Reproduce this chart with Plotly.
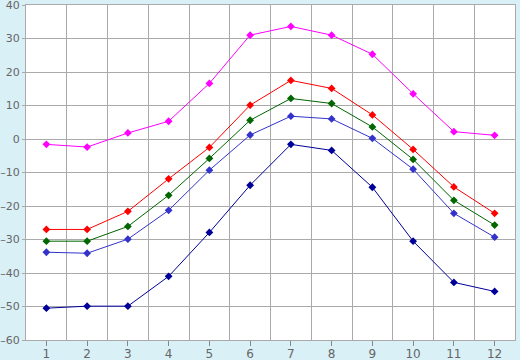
import plotly.graph_objects as go

months = [1, 2, 3, 4, 5, 6, 7, 8, 9, 10, 11, 12]
magenta = [-1.6, -2.4, 1.8, 5.3, 16.6, 31.0, 33.6, 31.0, 25.3, 13.5, 2.2, 1.1]
red = [-27.0, -27.0, -21.6, -11.9, -2.5, 10.1, 17.5, 15.1, 7.2, -3.1, -14.3, -22.2]
green = [-30.5, -30.5, -26.1, -16.8, -5.8, 5.6, 12.1, 10.6, 3.6, -6.1, -18.3, -25.7]
blue = [-33.8, -34.1, -29.9, -21.3, -9.3, 1.2, 6.8, 6.0, 0.2, -9.0, -22.2, -29.3]
navy = [-50.5, -49.9, -49.9, -41.0, -27.9, -13.8, -1.6, -3.4, -14.4, -30.5, -42.8, -45.5]
y_ticks = [-60, -50, -40, -30, -20, -10, 0, 10, 20, 30, 40]
y_labels = ["\u201360", "\u201350", "\u201340", "\u201330", "\u201320", "\u201310",
            "0", "10", "20", "30", "40"]

series = [
    (magenta, "#ff00ff"),
    (red, "#ff0000"),
    (green, "#006600"),
    (blue, "#3333cc"),
    (navy, "#000099"),
]

fig = go.Figure()
for vals, col in series:
    fig.add_trace(go.Scatter(
        x=months, y=vals, mode="lines+markers",
        line=dict(color=col, width=1),
        marker=dict(symbol="diamond", size=6, color=col),
        showlegend=False, hoverinfo="skip",
    ))

grid = "#aaaaaa"
fig.update_layout(
    width=520, height=360,
    margin=dict(l=26, r=5, t=5, b=20),
    paper_bgcolor="#daf0f7",
    plot_bgcolor="#ffffff",
    font=dict(family="DejaVu Sans", size=12, color="#666666"),
    xaxis=dict(
        range=[0.5, 12.5], tickvals=months, ticktext=[str(m) for m in months],
        showgrid=False, ticks="outside", ticklen=5, tickcolor="#888888",
        showline=True, linecolor=grid, linewidth=1, mirror=True,
        zeroline=False, automargin=False, ticklabeloverflow="allow",
        ticklabelstandoff=-2,
        minor=dict(tick0=0.5, dtick=1, showgrid=True, gridcolor=grid, gridwidth=1),
    ),
    yaxis=dict(
        range=[-60, 40], tickvals=y_ticks, ticktext=y_labels,
        tickfont=dict(size=11),
        showgrid=True, gridcolor=grid, gridwidth=1,
        ticks="outside", ticklen=3, tickcolor=grid,
        showline=True, linecolor=grid, linewidth=1, mirror=True,
        zeroline=False, automargin=False, ticklabeloverflow="allow",
    ),
)

fig.write_html(
    "out.html",
    config={"displayModeBar": False},
    post_script="document.body.style.margin='0';document.body.style.padding='0';",
)
